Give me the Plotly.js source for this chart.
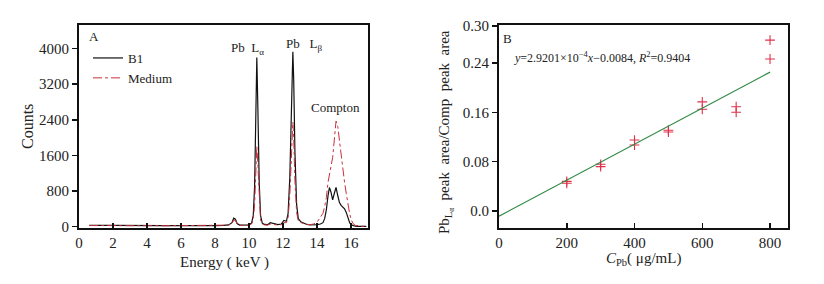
<!DOCTYPE html>
<html><head><meta charset="utf-8">
<script src="https://cdn.plot.ly/plotly-3.0.1.min.js"></script>
<style>html,body{margin:0;padding:0;background:#fff}#c{width:824px;height:284px}</style>
</head><body><div id="c"></div>
<script>
// Panel A: spectrum
const energy = [0.6,1.0,1.5,2.0,2.5,3.0,3.5,4.0,4.5,5.0,5.5,6.0,6.5,7.0,7.5,8.0,8.5,8.8,9.0,9.1,9.2,9.3,9.45,9.7,10.0,10.15,10.25,10.33,10.4,10.46,10.52,10.6,10.68,10.78,10.9,11.1,11.25,11.35,11.5,11.7,11.9,12.05,12.2,12.3,12.4,12.48,12.54,12.58,12.63,12.7,12.8,12.9,13.05,13.2,13.4,13.6,13.8,14.0,14.2,14.35,14.45,14.55,14.65,14.73,14.82,14.92,15.02,15.12,15.22,15.32,15.42,15.52,15.62,15.72,15.82,15.92,16.02,16.12,16.25,16.4,16.6,16.9];
const countsB1 = [30,35,30,28,25,30,25,28,25,22,25,22,20,20,22,25,30,40,90,190,170,70,35,30,40,80,250,900,2500,3800,2700,1000,250,80,50,45,90,80,50,45,60,140,120,300,1100,2600,3800,3930,3300,1700,500,180,110,80,50,40,40,45,60,90,180,380,700,880,780,600,750,880,700,540,480,440,400,320,180,90,40,20,10,5,5,5];
const countsMedium = [25,28,25,24,22,25,22,24,22,20,22,20,18,18,20,22,25,35,70,150,140,60,30,25,30,60,150,500,1300,1800,1400,550,150,60,40,35,60,55,40,35,45,90,90,200,700,1600,2250,2350,2000,1050,320,130,90,70,50,45,60,100,200,300,450,650,1000,1200,1350,1550,2000,2370,2250,1900,1600,1300,1000,750,500,290,150,70,30,15,10,5];
const xTicksA = [0,2,4,6,8,10,12,14,16];
const yTicksA = [0,800,1600,2400,3200,4000];

// Panel B: calibration
const concPb = [200,200,300,300,400,400,500,500,600,600,700,700,800,800];
const ratio  = [0.048,0.045,0.0757,0.072,0.115,0.107,0.131,0.128,0.177,0.165,0.169,0.160,0.277,0.2465];
const fitSlope = 2.9201e-4, fitIntercept = -0.0084;
const fitX = [0, 800];
const fitY = fitX.map(v => fitSlope*v + fitIntercept);
const xTicksB = [0,200,400,600,800];
const yTicksB = [0,0.08,0.16,0.24,0.30];
const yTickTextB = ['0.0','0.08','0.16','0.24','0.30'];

const F = 'Liberation Serif, Times New Roman, serif';
const ink = '#222';
const W = 824, H = 284;
const px = v => v / W, py = v => 1 - v / H;

const traces = [
  {x: energy, y: countsB1, type:'scatter', mode:'lines', name:'B1', line:{color:'#111', width:1.2}, xaxis:'x', yaxis:'y'},
  {x: energy, y: countsMedium, type:'scatter', mode:'lines', name:'Medium', line:{color:'#c9303c', width:1, dash:'dashdot'}, xaxis:'x', yaxis:'y'},
  {x: concPb, y: ratio, type:'scatter', mode:'markers', showlegend:false, marker:{symbol:'cross-thin', size:7, line:{color:'#e0314a', width:1.1}}, xaxis:'x2', yaxis:'y2'},
  {x: fitX, y: fitY, type:'scatter', mode:'lines', showlegend:false, line:{color:'#2f8a45', width:1.2}, xaxis:'x2', yaxis:'y2'}
];

const axBase = {showgrid:false, zeroline:false, showline:true, linecolor:'#111', linewidth:2, mirror:true,
  tickfont:{family:F, size:15, color:ink}, tickcolor:'#111', tickwidth:1.5, ticklen:5};

function ann(text, x, y, o) {
  return Object.assign({text, x:px(x), y:py(y), xref:'paper', yref:'paper', xanchor:'center', yanchor:'middle', showarrow:false, font:{size:13}}, o || {});
}

const layout = {
  width: W, height: H, margin:{l:0,r:0,t:0,b:0}, paper_bgcolor:'#fff', plot_bgcolor:'#fff',
  font:{family:F, color:ink},
  xaxis: Object.assign({}, axBase, {domain:[px(79), px(368)], range:[0,17], tickvals:xTicksA, ticks:'inside', anchor:'y'}),
  yaxis: Object.assign({}, axBase, {domain:[py(228), py(25)], range:[-30,4530], tickvals:yTicksA, ticks:'outside', anchor:'x'}),
  xaxis2: Object.assign({}, axBase, {domain:[px(499), px(788)], range:[0,853], tickvals:xTicksB, ticks:'inside', anchor:'y2'}),
  yaxis2: Object.assign({}, axBase, {domain:[py(228), py(25)], range:[-0.0276,0.3016], tickvals:yTicksB, ticktext:yTickTextB, ticks:'outside', anchor:'x2'}),
  showlegend:true,
  legend:{x:px(88), y:py(43), xanchor:'left', yanchor:'top', bgcolor:'rgba(0,0,0,0)', font:{family:F, size:13, color:ink}, itemwidth:30, tracegroupgap:6},
  annotations:[
    ann('A', 94, 37),
    ann('Pb&nbsp;&nbsp;L<sub>α</sub>', 248, 48),
    ann('Pb&nbsp;&nbsp;&nbsp;L<sub>β</sub>', 304, 44),
    ann('Compton', 335, 108),
    ann('Counts', 28, 127, {textangle:-90, font:{size:16}}),
    ann('Energy ( keV )', 224, 262, {font:{size:15}}),
    ann('B', 507, 38),
    ann('<i>y</i>=2.9201×10<sup>−4</sup><i>x</i>−0.0084, <i>R</i><sup>2</sup>=0.9404', 512, 57, {xanchor:'left', font:{size:12}}),
    ann('Pb<sub>L<sub>α</sub></sub>&nbsp;&nbsp;peak&nbsp;&nbsp;area/Comp&nbsp;&nbsp;peak&nbsp;&nbsp;area', 446, 132, {textangle:-90, font:{size:15}}),
    ann('<i>C</i><sub>Pb</sub>( μg/mL)', 643, 259, {font:{size:15}})
  ]
};
Plotly.newPlot('c', traces, layout, {staticPlot:true, displayModeBar:false});
</script></body></html>
